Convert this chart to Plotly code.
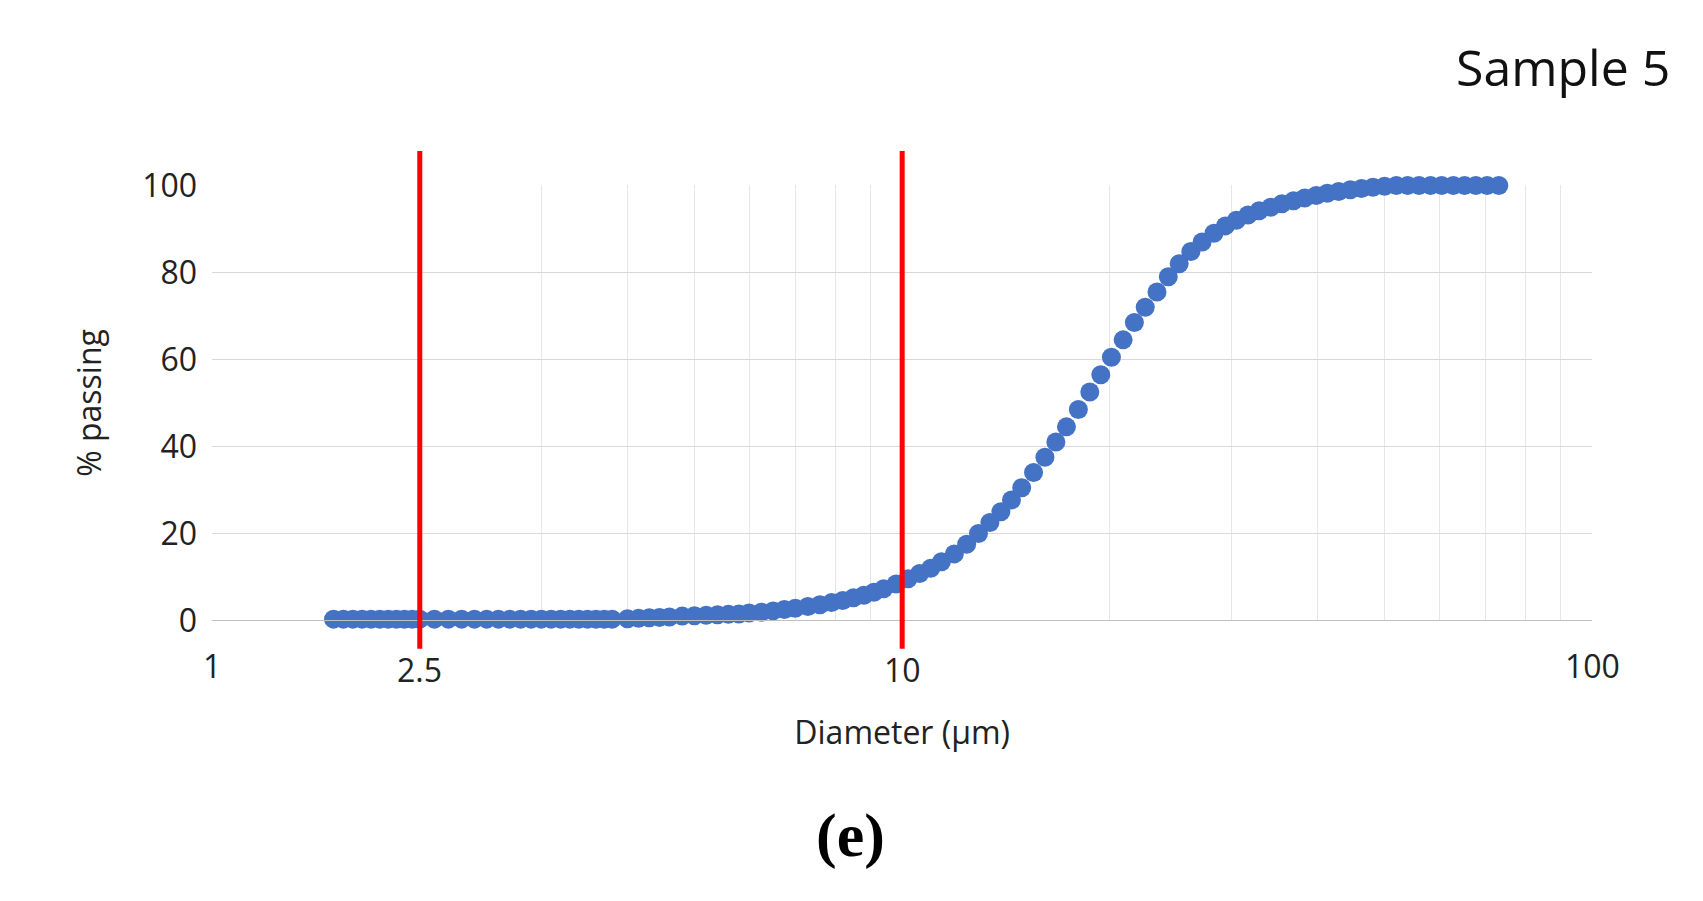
import math
import plotly.graph_objects as go

diam = [1.5,1.55,1.6,1.65,1.7,1.75,1.8,1.85,1.9,1.95,2.0,2.1,2.2,2.3,2.4,2.5,2.6,2.7,2.8,2.9,3.0,3.1,3.2,3.3,3.4,3.5,3.6,3.7,3.8,4.0,4.15,4.3,4.45,4.6,4.8,5.0,5.2,5.4,5.6,5.8,6.0,6.25,6.5,6.75,7.0,7.3,7.6,7.9,8.2,8.5,8.8,9.1,9.4,9.8,10.2,10.6,11.0,11.4,11.9,12.4,12.9,13.4,13.9,14.4,14.9,15.5,16.1,16.7,17.3,18.0,18.7,19.4,20.1,20.9,21.7,22.5,23.4,24.3,25.2,26.2,27.2,28.3,29.4,30.5,31.7,32.9,34.2,35.5,36.9,38.3,39.8,41.3,42.9,44.6,46.3,48.1,50.0,52.0,54.0,56.1,58.3,60.5,62.9,65.3,67.8,70.4,73.2]
passing = [0.3,0.3,0.3,0.3,0.3,0.3,0.3,0.3,0.3,0.3,0.3,0.3,0.3,0.3,0.3,0.3,0.3,0.3,0.3,0.3,0.3,0.3,0.3,0.3,0.3,0.3,0.3,0.3,0.3,0.4,0.5,0.6,0.7,0.8,1.0,1.1,1.2,1.3,1.4,1.5,1.7,1.9,2.2,2.5,2.8,3.2,3.6,4.1,4.6,5.2,5.8,6.5,7.3,8.4,9.6,10.8,12.0,13.5,15.3,17.5,20.0,22.5,25.0,27.7,30.5,34.0,37.5,41.0,44.5,48.5,52.5,56.5,60.5,64.5,68.5,72.0,75.5,79.0,82.0,84.8,87.0,89.0,90.7,92.0,93.2,94.2,95.0,95.8,96.5,97.1,97.7,98.2,98.6,99.0,99.3,99.6,99.8,100,100,100,100,100,100,100,100,100,100]
red_lines = [2.0, 10.0]
red_labels = ["2.5", "10"]

fig = go.Figure(go.Scatter(x=diam, y=passing, mode="markers",
    marker=dict(size=19, color="#4472C4"), cliponaxis=False))

for xv in red_lines:
    fig.add_shape(type="line", xref="x", yref="paper", x0=xv, x1=xv, y0=0.28, y1=0.86,
                  line=dict(color="#FF0000", width=5))

tick_font = dict(family="Open Sans, DejaVu Sans", size=32, color="#222")
fig.update_layout(
    width=1703, height=901, paper_bgcolor="white", plot_bgcolor="white",
    margin=dict(l=0, r=0, t=0, b=0), showlegend=False,
    xaxis=dict(type="log", range=[0, 2], domain=[0.117, 0.945],
               tickvals=[1, 10, 100], ticktext=["1", "", "100"],
               showgrid=True, gridcolor="#D9D9D9", minor=dict(showgrid=True, gridcolor="#E6E6E6", dtick="D1"),
               showline=True, linecolor="#BFBFBF", ticks="", tickfont=tick_font, ticklabelstandoff=18,
               title=dict(text="Diameter (µm)", font=tick_font, standoff=35)),
    yaxis=dict(range=[0, 100], domain=[0.313, 0.82], dtick=20,
               showgrid=True, gridcolor="#D9D9D9", zeroline=False, showline=False,
               tickfont=tick_font, ticklabelstandoff=14,
               title=dict(text="% passing", font=tick_font, standoff=30)),
)
for xv, lab in zip(red_lines, red_labels):
    fig.add_annotation(x=math.log10(xv), xref="x", y=0.283, yref="paper", text=lab,
                       showarrow=False, font=tick_font, yanchor="top")
fig.add_annotation(x=0.993, y=1.0, xref="paper", yref="paper", xanchor="right", yanchor="top",
                   text="Sample 5", showarrow=False, font=dict(family="Open Sans, DejaVu Sans", size=50, color="#111"))
fig.add_annotation(x=0.5, y=0.02, xref="paper", yref="paper", yanchor="bottom",
                   text="<b>(e)</b>", showarrow=False, font=dict(family="Liberation Serif", size=62, color="black"))
fig.write_html("out.html")
